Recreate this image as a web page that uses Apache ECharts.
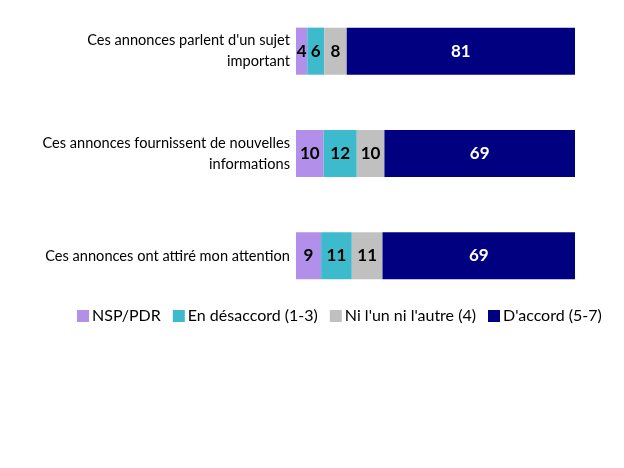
<!DOCTYPE html>
<html><head><meta charset="utf-8">
<script src="https://cdn.jsdelivr.net/npm/echarts@6/dist/echarts.min.js"></script>
<style>html,body{margin:0;padding:0;background:#fff}#c{width:624px;height:468px}</style>
</head><body><div id="c"></div>
<script>
const categories = [
  "Ces annonces parlent d'un sujet\nimportant",
  "Ces annonces fournissent de nouvelles\ninformations",
  "Ces annonces ont attiré mon attention"
];
const seriesNames = ["NSP/PDR", "En désaccord (1-3)", "Ni l'un ni l'autre (4)", "D'accord (5-7)"];
const nsp = [4, 10, 9];
const desaccord = [6, 12, 11];
const ni = [8, 10, 11];
const accord = [81, 69, 69];
const colors = ["#B28FE8", "#3DBBCC", "#C0C0C0", "#000080"];
const labelColors = ["#000", "#000", "#000", "#fff"];

const raw = [nsp, desaccord, ni, accord];
const totals = categories.map((_, i) => raw.reduce((s, arr) => s + arr[i], 0));

const chart = echarts.init(document.getElementById('c'), null, {renderer: 'canvas'});
chart.setOption({
  animation: false,
  textStyle: {fontFamily: 'Lato'},
  grid: {left: 296, right: 49, top: 0, height: 307, containLabel: false},
  xAxis: {type: 'value', min: 0, max: 100, show: false},
  yAxis: {
    type: 'category', data: categories, inverse: true,
    axisLine: {show: false}, axisTick: {show: false},
    axisLabel: {color: '#000', fontSize: 14.6, fontFamily: 'Lato', margin: 6, lineHeight: 21}
  },
  legend: {
    data: seriesNames, left: 72, top: 303, itemWidth: 12, itemHeight: 12, itemGap: 12,
    icon: 'rect', textStyle: {fontSize: 16, color: '#000', fontFamily: 'Lato', padding: [0, 0, 0, -2]}
  },
  series: raw.map((arr, k) => ({
    name: seriesNames[k], type: 'bar', stack: 'tot', barWidth: '46%',
    itemStyle: {color: colors[k]},
    label: {
      show: true, position: 'inside', color: labelColors[k], fontSize: 17, fontWeight: 'bold',
      fontFamily: 'Lato', formatter: p => arr[p.dataIndex]
    },
    data: arr.map((v, i) => v / totals[i] * 100)
  }))
});
</script></body></html>
